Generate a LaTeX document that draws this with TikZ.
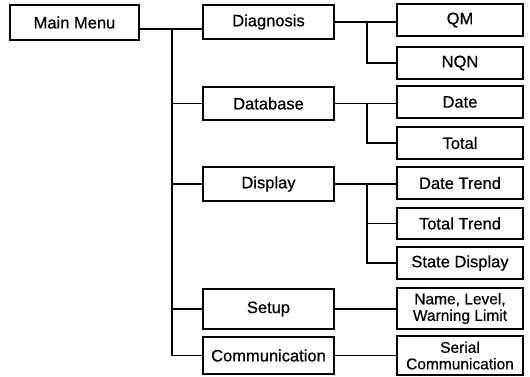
\documentclass[tikz,border=0pt]{standalone}
\usepackage{fontspec}
\setmainfont{Liberation Sans}
\newfontfamily\boxfont{Liberation Sans}[RawFeature={embolden=0.6}]
\begin{document}
\begin{tikzpicture}[x=1pt,y=-1pt,
  box/.style={draw, line width=1.3pt, inner sep=0pt, align=center,
    font=\boxfont\fontsize{16.5}{17}\selectfont},
  midbox/.style={box, minimum width=131pt},
  leafbox/.style={box, minimum width=126pt},
  twoline/.style={font=\boxfont\fontsize{15.5}{16.5}\selectfont},
  link/.style={line width=1.2pt}]
\useasboundingbox (0,0) rectangle (530,376);

% root
\node[box, minimum width=129pt, minimum height=35pt] (main) at (74.5,22.5) {Main Menu};

% second level
\node[midbox, minimum height=34pt] (diag)  at (268.5,22)    {Diagnosis};
\node[midbox, minimum height=33pt] (dbase) at (268.5,103.5) {Database};
\node[midbox, minimum height=34pt] (disp)  at (268.5,184)   {Display};
\node[midbox, minimum height=40pt] (setup) at (268.5,309)   {Setup};
\node[midbox, minimum height=37pt] (comm)  at (268.5,355.5) {Communication};

% third level
\node[leafbox, minimum height=32pt] (qm)     at (460,20)    {QM};
\node[leafbox, minimum height=32pt] (nqn)    at (460,63)    {NQN};
\node[leafbox, minimum height=32pt] (date)   at (460,102)   {Date};
\node[leafbox, minimum height=32pt] (total)  at (460,143)   {Total};
\node[leafbox, minimum height=32pt] (dtrend) at (460,183)   {Date Trend};
\node[leafbox, minimum height=31pt] (ttrend) at (460,223.5) {Total Trend};
\node[leafbox, minimum height=32pt] (state)  at (460,263)   {State Display};
\node[leafbox, twoline, minimum height=41pt] (name)   at (460,308.5) {Name, Level,\\Warning Limit};
\node[leafbox, twoline, minimum height=39pt] (serial) at (460,355.5) {Serial\\Communication};

% trunk from the main menu
\coordinate (trunk) at (172,29);
\draw[link] ([yshift=-6.5pt]main.east) -- ([yshift=-7pt]diag.west);
\draw[link] (trunk) |- (dbase.west);
\draw[link] (trunk) |- (disp.west);
\draw[link] (trunk) |- (setup.west);
\draw[link] (trunk) |- (comm.west);

% diagnosis branch
\coordinate (jd) at (367,22);
\draw[link] (diag.east) -- (diag.east -| qm.west);
\draw[link] (jd) |- (nqn.west);

% database branch
\coordinate (jb) at (367,103.5);
\draw[link] (dbase.east) -- (dbase.east -| date.west);
\draw[link] (jb) |- (total.west);

% display branch
\coordinate (jp) at (367,184);
\draw[link] (disp.east) -- (disp.east -| dtrend.west);
\draw[link] (jp) |- (ttrend.west);
\draw[link] (jp) |- (state.west);

% direct links
\draw[link] (setup.east) -- (setup.east -| name.west);
\draw[link] (comm.east) -- (comm.east -| serial.west);
\end{tikzpicture}
\end{document}
